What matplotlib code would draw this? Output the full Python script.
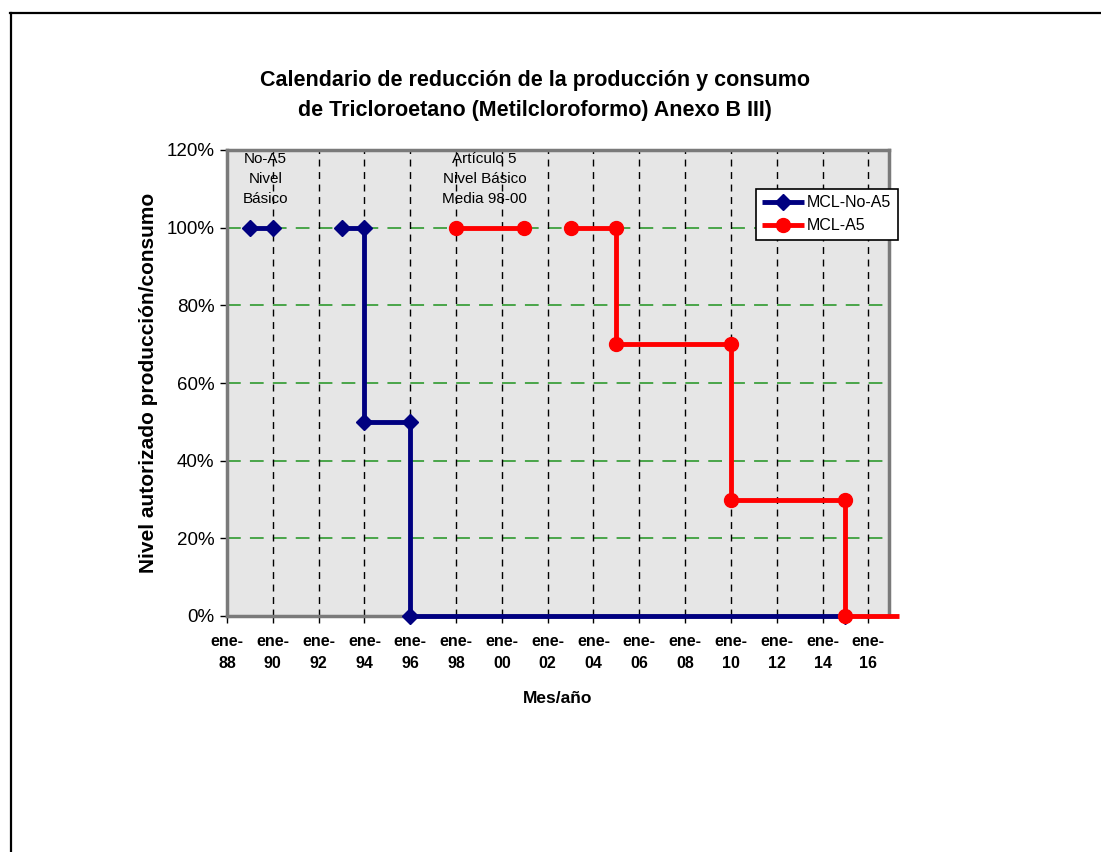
import datetime as dt
import matplotlib
matplotlib.use('Agg')
import matplotlib.pyplot as plt
import matplotlib.dates as mdates
from matplotlib.lines import Line2D
from matplotlib.ticker import FixedLocator, FuncFormatter

plt.rcParams['font.family'] = ['Liberation Sans', 'DejaVu Sans']

# Data: schedule points (date, fraction of base level); None breaks the line
no_a5_dates = [dt.datetime(1989, 1, 1), dt.datetime(1990, 1, 1), None,
               dt.datetime(1993, 1, 1), dt.datetime(1994, 1, 1),
               dt.datetime(1994, 1, 1), dt.datetime(1996, 1, 1),
               dt.datetime(1996, 1, 1), dt.datetime(2015, 1, 1)]
no_a5_values = [1.0, 1.0, None, 1.0, 1.0, 0.5, 0.5, 0.0, 0.0]

a5_dates = [dt.datetime(1998, 1, 1), dt.datetime(2000, 12, 15), None,
            dt.datetime(2003, 1, 1), dt.datetime(2005, 1, 1),
            dt.datetime(2005, 1, 1), dt.datetime(2010, 1, 1),
            dt.datetime(2010, 1, 1), dt.datetime(2015, 1, 1),
            dt.datetime(2015, 1, 1), dt.datetime(2017, 5, 1)]
a5_values = [1.0, 1.0, None, 1.0, 1.0, 0.7, 0.7, 0.3, 0.3, 0.0, 0.0]

tick_years = list(range(1988, 2017, 2))
y_ticks = [0.0, 0.2, 0.4, 0.6, 0.8, 1.0, 1.2]

title = ('Calendario de reducción de la producción y consumo\n'
         'de Tricloroetano (Metilcloroformo) Anexo B III)')
note_no_a5 = 'No-A5\nNivel\nBásico'
note_a5 = 'Artículo 5\nNivel Básico\nMedia 98-00'


def split(dates, values):
    # turn None markers into NaN gaps for plotting
    xs = [d if d is not None else dt.datetime(1990, 6, 1) for d in dates]
    ys = [v if v is not None else float('nan') for v in values]
    return xs, ys


fig = plt.figure(figsize=(11.01, 8.52), dpi=100)
fig.patch.set_facecolor('white')

# page frame (top and left edges)
fig.add_artist(Line2D([10 / 1101, 1.0], [1 - 13 / 852, 1 - 13 / 852],
                      transform=fig.transFigure, color='black', lw=1.6))
fig.add_artist(Line2D([11 / 1101, 11 / 1101], [0, 1 - 13 / 852],
                      transform=fig.transFigure, color='black', lw=1.6))

ax = fig.add_axes([227 / 1101, 1 - 616 / 852, (889 - 227) / 1101, (616 - 150) / 852])
ax.set_facecolor('#e6e6e6')

x_left = dt.datetime(1988, 1, 1)
x_right = dt.datetime(2016, 11, 25)
ax.set_xlim(x_left, x_right)
ax.set_ylim(0, 1.2)

# grid lines
for yv in y_ticks[1:-1]:
    ax.axhline(yv, color='#1f931f', lw=1.1, dashes=(9, 6), zorder=1)
for yr in tick_years[1:]:
    ax.axvline(dt.datetime(yr, 1, 1), color='black', lw=1.0, dashes=(5, 4), zorder=1)

xs, ys = split(no_a5_dates, no_a5_values)
ax.plot(xs, ys, color='#000080', lw=3.5, marker='D', markersize=8,
        label='MCL-No-A5', zorder=3, clip_on=False, solid_capstyle='butt')

xs, ys = split(a5_dates, a5_values)
ax.plot(xs, ys, color='#ff0000', lw=3.5, marker='o', markersize=10,
        markevery=list(range(len(xs) - 1)), label='MCL-A5', zorder=4,
        clip_on=False, solid_capstyle='butt')

for side in ['top', 'right', 'left', 'bottom']:
    ax.spines[side].set_color('#7a7a7a')
    ax.spines[side].set_linewidth(2.5)
    ax.spines[side].set_zorder(2)

ax.xaxis.set_major_locator(FixedLocator([mdates.date2num(dt.datetime(y, 1, 1)) for y in tick_years]))
ax.xaxis.set_major_formatter(FuncFormatter(
    lambda v, p: 'ene-\n%02d' % (mdates.num2date(v).year % 100)))
ax.yaxis.set_major_locator(FixedLocator(y_ticks))
ax.yaxis.set_major_formatter(FuncFormatter(lambda v, p: '%d%%' % round(v * 100)))
ax.tick_params(axis='x', direction='out', length=5, width=1, color='black',
               labelsize=11.5, pad=8)
ax.tick_params(axis='y', direction='out', length=5, width=1, color='black',
               labelsize=13.5, pad=4)
for lab in ax.get_xticklabels():
    lab.set_fontweight('bold')
    lab.set_linespacing(1.6)

ax.set_xlabel('Mes/año', fontsize=12.5, fontweight='bold', labelpad=14)
ax.set_ylabel('Nivel autorizado producción/consumo', fontsize=15,
              fontweight='bold', labelpad=6)

fig.text(0.486, 1 - 70 / 852, title, ha='center', va='top', fontsize=15.5,
         fontweight='bold', linespacing=1.55)

narrow = ['Liberation Sans Narrow', 'Liberation Sans', 'DejaVu Sans']
ax.text(dt.datetime(1989, 9, 1), 1.195, note_no_a5, ha='center', va='top',
        fontsize=11, family=narrow, linespacing=1.55, zorder=5)
ax.text(dt.datetime(1999, 4, 1), 1.195, note_a5, ha='center', va='top',
        fontsize=11, family=narrow, linespacing=1.55, zorder=5)

leg = ax.legend(loc='upper left', bbox_to_anchor=(756 / 1101, 1 - 189 / 852),
                bbox_transform=fig.transFigure, frameon=True, fancybox=False,
                fontsize=11.5, handlelength=2.6, handletextpad=0.2,
                borderpad=0.4, labelspacing=0.5, borderaxespad=0)
leg.get_frame().set_edgecolor('black')
leg.get_frame().set_linewidth(1.2)
leg.get_frame().set_facecolor('white')
leg.get_frame().set_alpha(1)
for t in leg.get_texts():
    t.set_family(narrow)

fig.savefig('out.png', dpi=100)
